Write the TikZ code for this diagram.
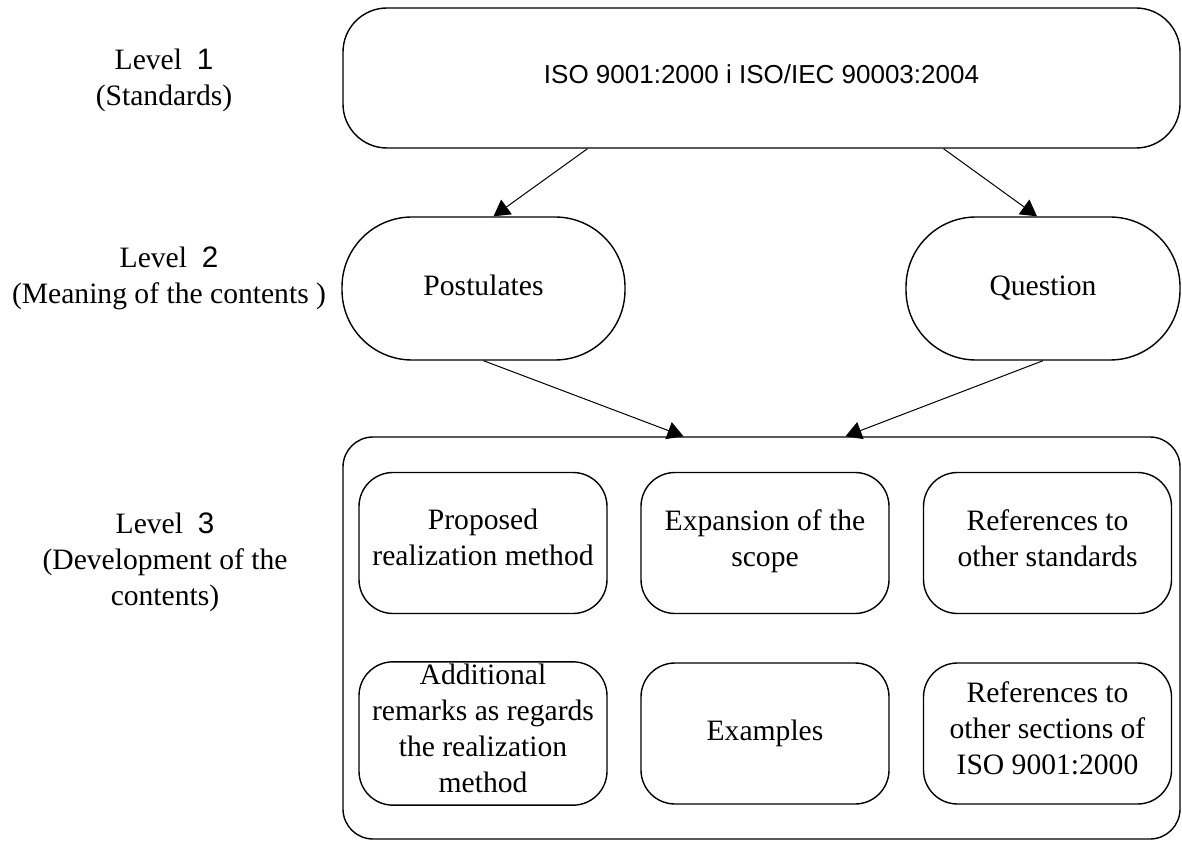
\documentclass[tikz,border=0pt]{standalone}
\usepackage{fontspec}
\setmainfont{Liberation Serif}
\newfontfamily\arialfont{Liberation Sans}
\usetikzlibrary{arrows.meta}

\begin{document}
\begin{tikzpicture}[x=0.5pt,y=-0.5pt,
    font=\fontsize{14.8}{18}\selectfont,
    lvl/.style={align=center},
    outer/.style={rectangle,draw,line width=0.7pt,rounded corners=#1,
        execute at begin node=\strut,execute at end node=\strut},
    inner/.style={rectangle,draw,line width=0.7pt,rounded corners=17pt,align=center,inner sep=1pt,
        minimum width=124pt,minimum height=70.5pt,
        execute at begin node=\strut,execute at end node=\strut},
    arr/.style={line width=0.5pt,-{Triangle[length=8pt,width=9pt]}}]
    \useasboundingbox (0,0) rectangle (1182,844);

    % left column
    \node[lvl] (l1) at (164, 80) {Level\ \ {\arialfont 1}\\(Standards)};
    \node[lvl] (l2) at (169, 278) {Level\ \ {\arialfont 2}\\(Meaning of the contents )};
    \node[lvl] (l3) at (165, 562) {Level\ \ {\arialfont 3}\\(Development of the\\contents)};

    % levels 1 and 2
    \node[outer=22pt,minimum width=418.5pt,minimum height=70pt,font=\arialfont\fontsize{13}{15}\selectfont] (top) at (761.5, 78) {ISO 9001:2000 i ISO/IEC 90003:2004};
    \node[outer=35pt,minimum width=141.5pt,minimum height=71.5pt] (post) at (483.5, 288.5) {Postulates};
    \node[outer=35pt,minimum width=137pt,minimum height=71.5pt] (ques) at (1043, 288.5) {Question};

    % level 3
    \node[outer=15pt,minimum width=418.5pt,minimum height=201pt] (big) at (761.5, 638) {};
    \node[inner] (prop) at (483, 543) {Proposed\\realization method};
    \node[inner] (expn) at (765, 543) {Expansion of the\\scope};
    \node[inner] (refs) at (1047.5, 543) {References to\\other standards};
    \node[inner] (addr) at (483, 733.5) {Additional\\remarks as regards\\the realization\\method};
    \node[inner] (exmp) at (765, 733.5) {Examples};
    \node[inner] (refo) at (1047.5, 733.5) {References to\\other sections of\\ISO 9001:2000};

    \draw [arr]([xshift=-87pt]top.south) -- ([xshift=5pt]post.north);
    \draw [arr]([xshift=91pt]top.south) -- ([xshift=-3pt]ques.north);
    \draw [arr](post.south) -- ([xshift=-39pt]big.north);
    \draw [arr](ques.south) -- ([xshift=42pt]big.north);
\end{tikzpicture}
\end{document}
